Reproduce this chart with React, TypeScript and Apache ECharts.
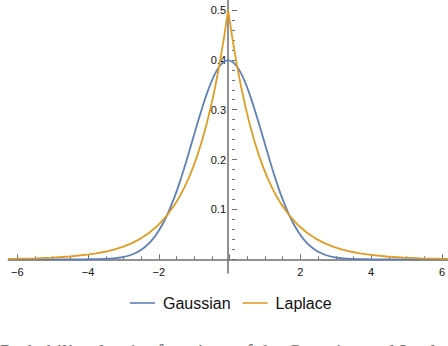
import React, { useEffect, useRef } from "react";
import * as echarts from "echarts";

const xValues = [
  -6.25, -6, -5.5, -5, -4.5, -4, -3.75, -3.5, -3.25, -3, -2.75, -2.5, -2.25, -2, -1.75, -1.5,
  -1.375, -1.25, -1.125, -1, -0.875, -0.75, -0.625, -0.5, -0.375, -0.25, -0.125, 0,
  0.125, 0.25, 0.375, 0.5, 0.625, 0.75, 0.875, 1, 1.125, 1.25, 1.375, 1.5, 1.75, 2, 2.25,
  2.5, 2.75, 3, 3.25, 3.5, 3.75, 4, 4.5, 5, 5.5, 6, 6.25,
];

const gaussian = [
  0, 0, 0, 0, 0, 0.0001, 0.0004, 0.0009, 0.002, 0.0044, 0.0091, 0.0175, 0.0317, 0.054, 0.0863, 0.1295,
  0.1551, 0.1826, 0.2121, 0.242, 0.2721, 0.3011, 0.3282, 0.3521, 0.3719, 0.3867, 0.3958, 0.3989,
  0.3958, 0.3867, 0.3719, 0.3521, 0.3282, 0.3011, 0.2721, 0.242, 0.2121, 0.1826, 0.1551, 0.1295, 0.0863, 0.054, 0.0317,
  0.0175, 0.0091, 0.0044, 0.002, 0.0009, 0.0004, 0.0001, 0, 0, 0, 0, 0,
];

const laplace = [
  0.001, 0.0012, 0.002, 0.0034, 0.0056, 0.0092, 0.0118, 0.0151, 0.0194, 0.0249, 0.032, 0.041, 0.0527, 0.0677, 0.0869, 0.1116,
  0.1264, 0.1433, 0.1623, 0.1839, 0.2084, 0.2362, 0.2676, 0.3033, 0.3436, 0.3894, 0.4412, 0.5,
  0.4412, 0.3894, 0.3436, 0.3033, 0.2676, 0.2362, 0.2084, 0.1839, 0.1623, 0.1433, 0.1264, 0.1116, 0.0869, 0.0677, 0.0527,
  0.041, 0.032, 0.0249, 0.0194, 0.0151, 0.0118, 0.0092, 0.0056, 0.0034, 0.002, 0.0012, 0.001,
];

const seriesNames = ["Gaussian", "Laplace"];
const seriesColors = ["#5E81B5", "#E19C24"];
const captionText = "Probability density functions of the Gaussian and Laplace distributions";

const AXIS_COLOR = "#6e6e6e";
const FONT = "'Liberation Sans', Arial, sans-serif";

function fmt(v: number, digits: number) {
  if (Math.abs(v) < 1e-9) return "";
  const s = Math.abs(v).toFixed(digits);
  return v < 0 ? "\u2212" + s : s;
}

export default function App() {
  const ref = useRef<HTMLDivElement>(null);
  useEffect(() => {
    if (!ref.current) return;
    const chart = echarts.init(ref.current, undefined, { renderer: "svg" });
    const toPairs = (ys: number[]) => xValues.map((x, i) => [x, ys[i]]);
    const hiddenX = (gridIndex: number) => ({
      type: "value", gridIndex, min: -1, max: 1, show: false,
    });
    chart.setOption({
      animation: false,
      grid: [
        { left: 8.3, right: -7.8, top: 0, bottom: 73 },
        { left: 17.3, right: 1.3, top: 10, bottom: 86.7 },
        { left: 232, right: 215, top: 10, bottom: 86.7 },
      ],
      xAxis: [
        {
          type: "value", gridIndex: 0, min: -6.25, max: 6.25,
          axisLine: { show: true, onZero: true, lineStyle: { color: AXIS_COLOR, width: 1.5 } },
          axisTick: { show: false }, axisLabel: { show: false }, splitLine: { show: false },
        },
        {
          type: "value", gridIndex: 1, min: -6, max: 6, interval: 2, position: "bottom",
          axisLine: { show: false, onZero: false },
          axisTick: { show: true, inside: true, length: 5, lineStyle: { color: AXIS_COLOR, width: 1 } },
          minorTick: { show: true, splitNumber: 4, length: 3, lineStyle: { color: AXIS_COLOR, width: 1 } },
          axisLabel: { show: true, margin: 7, color: "#111", fontSize: 11, fontFamily: FONT, formatter: (v: number) => fmt(v, 0) },
          splitLine: { show: false },
        },
        hiddenX(2),
      ],
      yAxis: [
        {
          type: "value", gridIndex: 0, min: -0.0275, max: 0.52,
          axisLine: { show: true, onZero: true, lineStyle: { color: AXIS_COLOR, width: 1.5 } },
          axisTick: { show: false }, axisLabel: { show: false }, splitLine: { show: false },
        },
        { type: "value", gridIndex: 1, min: 0, max: 0.5, show: false },
        {
          type: "value", gridIndex: 2, min: 0, max: 0.5, interval: 0.1, position: "left",
          axisLine: { show: false, onZero: false },
          axisTick: { show: true, inside: true, length: 5, lineStyle: { color: AXIS_COLOR, width: 1 } },
          minorTick: { show: true, splitNumber: 5, length: 3, lineStyle: { color: AXIS_COLOR, width: 1 } },
          axisLabel: { show: true, margin: 6, color: "#111", fontSize: 11, fontFamily: FONT, formatter: (v: number) => fmt(v, 1) },
          splitLine: { show: false },
        },
      ],
      legend: {
        data: seriesNames,
        left: 125, top: 290,
        icon: "rect",
        itemWidth: 25, itemHeight: 1.6, itemGap: 12,
        textStyle: { fontSize: 16, fontFamily: FONT, color: "#111", padding: [0, 0, 0, 3] },
      },
      graphic: [
        {
          type: "text", left: 0, top: 342,
          style: { text: captionText, font: "20px 'Liberation Serif', 'DejaVu Serif', serif", fill: "#666" },
        },
      ],
      series: [
        {
          name: seriesNames[0], type: "line", xAxisIndex: 0, yAxisIndex: 0,
          data: toPairs(gaussian), symbol: "none", smooth: 0.3,
          lineStyle: { color: seriesColors[0], width: 1.8 }, itemStyle: { color: seriesColors[0] },
        },
        {
          name: seriesNames[1], type: "line", xAxisIndex: 0, yAxisIndex: 0,
          data: toPairs(laplace), symbol: "none",
          lineStyle: { color: seriesColors[1], width: 1.8 }, itemStyle: { color: seriesColors[1] },
        },
      ],
    });
    return () => chart.dispose();
  }, []);
  return (
    <div
      ref={ref}
      style={{ position: "fixed", left: 0, top: 0, width: 448, height: 346, background: "#fff" }}
    />
  );
}
